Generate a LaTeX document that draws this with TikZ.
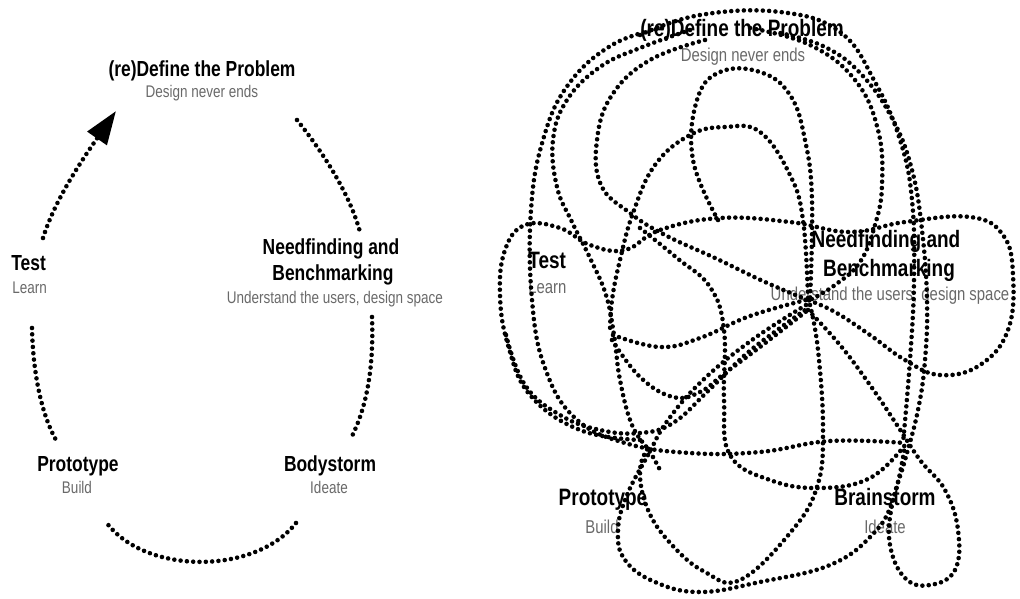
\documentclass[tikz,border=0pt]{standalone}
\usepackage{fontspec}
\setmainfont{Liberation Sans}[FakeStretch=0.8]
\usetikzlibrary{arrows.meta}
\definecolor{notegray}{RGB}{105,105,105}

\begin{document}
\begin{tikzpicture}[x=0.02cm, y=-0.02cm,
    dotline/.style={line width=2.6pt, line cap=round, dash pattern=on 0pt off 3.6pt},
    stage/.style={font=\fontsize{12.4}{14}\selectfont\bfseries, inner sep=0pt, anchor=base},
    note/.style={font=\fontsize{9.6}{11}\selectfont, text=notegray, inner sep=0pt, anchor=base},
    bigstage/.style={stage, font=\fontsize{13.5}{16}\selectfont\bfseries},
    bignote/.style={note, font=\fontsize{10.6}{12}\selectfont}]
    \useasboundingbox (0,0) rectangle (1020,598);

    % Left: the tidy cycle
    \node[stage] (defL) at (202,76) {(re)Define the Problem};
    \node[note] (defLn) at (202,97) {Design never ends};
    \node[stage] (needL) at (331,254) {Needfinding and};
    \node[stage] (needLb) at (333,280) {Benchmarking};
    \node[note] (needLn) at (335,303) {Understand the users, design space};
    \node[stage] (bodyL) at (330,471) {Bodystorm};
    \node[note] (bodyLn) at (329,493) {Ideate};
    \node[stage] (protoL) at (78,471) {Prototype};
    \node[note] (protoLn) at (77,493) {Build};
    \node[stage, anchor=base west] (testL) at (11,270) {Test};
    \node[note, anchor=base west] (testLn) at (12,293) {Learn};

    % end points of the arcs
    \coordinate (a1) at (43,238);  \coordinate (a2) at (116,111);
    \coordinate (b1) at (297,120); \coordinate (b2) at (360,232);
    \coordinate (c1) at (372,317); \coordinate (c2) at (350,440);
    \coordinate (d1) at (296,523); \coordinate (d2) at (106,522);
    \coordinate (e1) at (32,328);  \coordinate (e2) at (56,440);

    \draw[dotline, -{Triangle[length=19pt, width=13pt]}] (a1) .. controls (55,200) and (80,163) .. (a2);
    \draw[dotline] (b1) .. controls (325,155) and (350,195) .. (b2);
    \draw[dotline] (c1) .. controls (374,370) and (366,410) .. (c2);
    \draw[dotline] (d1) .. controls (255,575) and (145,575) .. (d2);
    \draw[dotline] (e1) .. controls (33,375) and (42,415) .. (e2);

    % Right: the messy reality
    \node[bigstage] (defR) at (742,37) {(re)Define the Problem};
    \node[bignote] (defRn) at (743,62) {Design never ends};
    \node[bigstage] (needR) at (886,247) {Needfinding and};
    \node[bigstage] (needRb) at (889,276) {Benchmarking};
    \node[bignote] (needRn) at (890,300) {Understand the users, design space};
    \node[bigstage] (brainR) at (885,505) {Brainstorm};
    \node[bignote] (brainRn) at (885,533) {Ideate};
    \node[bigstage] (protoR) at (603,505) {Prototype};
    \node[bignote] (protoRn) at (602,533) {Build};
    \node[bigstage, anchor=base west] (testR) at (528,268) {Test};
    \node[bignote, anchor=base west] (testRn) at (528,293) {Learn};

    % outer sweeps on the left
    \draw[dotline] plot[smooth, tension=0.7] coordinates {(662,28) (612,45) (568,85) (543,140) (531,210) (532,300) (545,368) (575,418) (625,443) (690,453) (760,452) (830,441) (905,443)};
    \draw[dotline] plot[smooth, tension=0.7] coordinates {(690,30) (640,48) (600,67) (567,100) (553,140) (557,187) (572,222) (590,258) (606,295) (614,335) (620,380) (632,425) (650,452) (660,470)};
    \draw[dotline] plot[smooth, tension=0.7] coordinates {(705,40) (650,60) (612,95) (597,140) (601,185) (630,213) (665,235) (715,258) (765,282) (808,300)};

    % inner loops under the title
    \draw[dotline] plot[smooth, tension=0.7] coordinates {(808,298) (803,220) (790,175) (760,132) (725,127) (690,135) (655,165) (633,213) (620,260) (612,300) (610,333)};
    \draw[dotline] plot[smooth, tension=0.7] coordinates {(718,220) (693,160) (697,100) (720,72) (760,72) (790,95) (805,140) (812,200) (810,300)};

    % Test loop round to the far right and back
    \draw[dotline] plot[smooth, tension=0.7] coordinates {(640,440) (580,430) (530,395) (508,345) (500,295) (505,250) (525,225) (560,228) (590,245) (625,250) (660,230) (720,218) (790,222) (850,232) (905,222) (970,217) (1003,235) (1013,275) (1008,330) (980,365) (940,375) (905,360) (870,335) (835,312) (808,300)};

    % crossings between Test and Needfinding
    \draw[dotline] plot[smooth, tension=0.7] coordinates {(613,335) (660,347) (700,338) (750,316) (806,300)};
    \draw[dotline] plot[smooth, tension=0.7] coordinates {(612,340) (640,377) (673,397) (700,392) (725,373) (760,347) (808,310)};
    \draw[dotline] plot[smooth, tension=0.7] coordinates {(640,228) (677,258) (710,287) (724,330) (724,400) (730,455) (770,480) (820,488) (870,478) (905,445)};

    % down to Prototype
    \draw[dotline] plot[smooth, tension=0.7] coordinates {(506,335) (525,385) (560,415) (600,430) (640,433) (673,423) (707,392) (745,355) (780,328) (808,308)};
    \draw[dotline] plot[smooth, tension=0.7] coordinates {(806,305) (752,340) (703,380) (668,420) (648,455) (627,495) (618,530) (625,560) (655,582) (700,592) (760,582) (830,565) (872,535) (893,500) (905,445)};
    \draw[dotline] plot[smooth, tension=0.7] coordinates {(810,305) (818,350) (823,430) (817,487) (790,533) (740,580) (705,572) (672,545) (648,510) (640,470) (650,445)};

    % Brainstorm loop and the right arcs back to the title
    \draw[dotline] plot[smooth, tension=0.7] coordinates {(808,310) (840,345) (870,385) (897,425) (920,460) (945,490) (958,530) (955,570) (930,585) (905,578) (890,545) (892,505) (905,460) (918,410) (925,360) (927,300) (922,230) (912,170) (893,120) (862,75) (825,47) (780,33)};
    \draw[dotline] plot[smooth, tension=0.7] coordinates {(640,35) (700,15) (780,12) (840,32) (875,82) (900,140) (912,200) (914,280) (910,360) (903,443)};
    \draw[dotline] plot[smooth, tension=0.7] coordinates {(750,28) (810,45) (855,80) (878,130) (882,185) (875,225) (860,262) (835,285) (810,300)};
\end{tikzpicture}
\end{document}
